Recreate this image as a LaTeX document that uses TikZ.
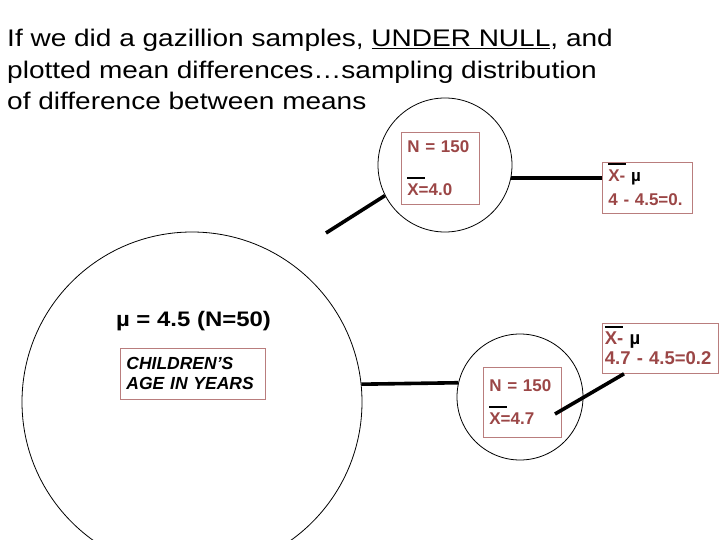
\documentclass[tikz,border=0pt]{standalone}
\usepackage{fontspec}
\setmainfont{Liberation Sans}
\definecolor{boxred}{RGB}{155,70,70}
\definecolor{boxline}{RGB}{185,125,125}
\newcommand{\xbar}{\makebox[0pt][l]{\smash{\textcolor{black}{\raisebox{17pt}{\rule{18pt}{2pt}}}}}X}

\begin{document}
\begin{tikzpicture}[x=1pt, y=-1pt,
  ring/.style={draw, circle, line width=0.8pt, inner sep=0pt},
  databox/.style={draw=boxline, line width=0.8pt, text=boxred, anchor=north west,
    font=\fontsize{17}{19}\selectfont\bfseries, align=left, inner xsep=6pt, inner ysep=0pt},
  link/.style={line width=3.6pt}]
  \clip (0,0) rectangle (720,540);
  % Coordinates
  \coordinate (P) at (192.00, 402.00);
  \coordinate (S1) at (445.00, 165.00);
  \coordinate (S2) at (520.00, 397.00);
  \coordinate (A) at (326.00, 233.00);
  \coordinate (B) at (555.00, 414.00);

  % Title
  \node[anchor=north west, inner sep=0pt, align=left, xscale=1.167,
    font=\fontsize{24}{31.5}\selectfont]
    (title) at (7, 29) {If we did a gazillion samples, \underline{UNDER NULL}, and\\
    plotted mean differences…sampling distribution\\
    of difference between means};

  % Circles
  \node[ring, minimum size=340pt] (pop) at (P) {};
  \node[ring, minimum size=134pt] (samp1) at (S1) {};
  \node[ring, minimum size=126pt] (samp2) at (S2) {};

  % Boxes
  \node[xscale=1.14, font=\fontsize{21}{23}\selectfont\bfseries] (mu) at (193.5, 321)
    {µ = 4.5 (N=50)};
  \node[databox, text=black, font=\fontsize{17.5}{20}\selectfont\bfseries\itshape,
    text width=133pt, minimum height=51pt] (age) at (120, 348) {CHILDREN’S\\AGE IN YEARS};
  \node[databox, text width=66pt, minimum height=72pt] (d1) at (401, 132)
    {N = 150\\[24pt]\xbar=4.0};
  \node[databox, text width=78pt, minimum height=51pt] (e1) at (602, 162)
    {\xbar- \textcolor{black}{µ}\\[5pt]4 - 4.5=0.};
  \node[databox, text width=66pt, minimum height=70pt] (d2) at (483, 367)
    {N = 150\\[14pt]\xbar=4.7};
  \node[databox, inner xsep=2.5pt, font=\fontsize{18.5}{19}\selectfont\bfseries,
    text width=111pt, minimum height=50pt] (e2) at (602, 323)
    {\xbar- \textcolor{black}{µ}\\[1pt]4.7 - 4.5=0.2};

  % Drawing
  \draw[link] (A) -- (samp1.207);
  \draw[link] (samp1.-11) -- (samp1.-11 -| e1.west);
  \draw[link] (pop.6) -- (samp2.167);
  \draw[link] (B) -- ([xshift=22pt]e2.south west);
\end{tikzpicture}
\end{document}
